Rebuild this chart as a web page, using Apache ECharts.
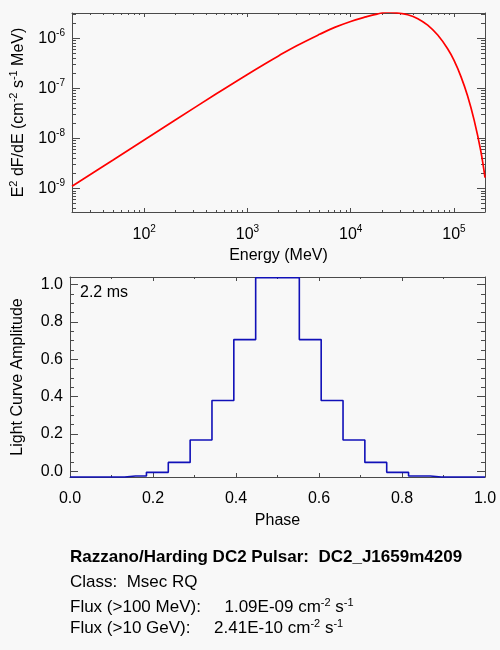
<!DOCTYPE html>
<html>
<head>
<meta charset="utf-8">
<script src="https://cdn.jsdelivr.net/npm/echarts@6/dist/echarts.min.js"></script>
<style>
html, body { margin: 0; padding: 0; background: #f8f8f8; }
#chart { width: 500px; height: 650px; }
</style>
</head>
<body>
<div id="chart"></div>
<script>
// ---- Spectrum (top panel) ----
const energy = [20, 50, 100, 200, 500, 1000, 1500, 2000, 3000, 5000, 7000, 10000, 14000, 18000, 23000, 28000,
                35700, 44700, 55700, 69700, 86900, 100000, 117000, 135500, 157000, 182000, 200000];
const flux = [1.11e-9, 3.72e-9, 9.3e-9, 2.33e-8, 7.8e-8, 1.9e-7, 3.15e-7, 4.45e-7, 7.1e-7, 1.2e-6, 1.65e-6, 2.17e-6,
              2.67e-6, 3.05e-6, 3.33e-6, 3.22e-6, 2.95e-6, 2.47e-6, 1.83e-6, 1.16e-6, 6.18e-7, 3.65e-7, 1.72e-7,
              7.11e-8, 2.32e-8, 5.64e-9, 1.65e-9];
const energyRange = [20, 200000];
const fluxRange = [3.4e-10, 3.2e-6];
const energyTicks = [100, 1000, 10000, 100000];
const energyMinorTicks = [20, 30, 40, 50, 60, 70, 80, 90, 200, 300, 400, 500, 600, 700, 800, 900,
                          2000, 3000, 4000, 5000, 6000, 7000, 8000, 9000, 20000, 30000, 40000, 50000,
                          60000, 70000, 80000, 90000];
const fluxTicks = [1e-9, 1e-8, 1e-7, 1e-6];
const fluxMinorTicks = [4e-10, 5e-10, 6e-10, 7e-10, 8e-10, 9e-10, 2e-9, 3e-9, 4e-9, 5e-9, 6e-9, 7e-9, 8e-9, 9e-9,
                        2e-8, 3e-8, 4e-8, 5e-8, 6e-8, 7e-8, 8e-8, 9e-8, 2e-7, 3e-7, 4e-7, 5e-7, 6e-7, 7e-7,
                        8e-7, 9e-7, 2e-6, 3e-6];

// ---- Light curve (bottom panel) ----
const phase = [0, 0.0526, 0.1053, 0.1579, 0.2105, 0.2632, 0.3158, 0.3684, 0.4211, 0.4737,
               0.5263, 0.5789, 0.6316, 0.6842, 0.7368, 0.7895, 0.8421, 0.8947, 0.9474, 1.0];
const amplitude = [-0.03, -0.03, -0.03, -0.025, -0.005, 0.048, 0.168, 0.379, 0.705, 1.036,
                   1.036, 0.705, 0.379, 0.168, 0.048, -0.005, -0.025, -0.03, -0.03, -0.03];
const phaseRange = [0, 1];
const ampRange = [-0.03, 1.04];
const phaseTicks = [0, 0.2, 0.4, 0.6, 0.8, 1.0];
const phaseMinorTicks = [0.1, 0.3, 0.5, 0.7, 0.9];
const ampTicks = [0, 0.2, 0.4, 0.6, 0.8, 1.0];
const ampMinorTicks = [0.05, 0.1, 0.15, 0.25, 0.3, 0.35, 0.45, 0.5, 0.55, 0.65, 0.7, 0.75, 0.85, 0.9, 0.95];

// ---- Text ----
const periodText = '2.2 ms';
const infoTitle = 'Razzano/Harding DC2 Pulsar:  DC2_J1659m4209';
const infoClass = 'Class:  Msec RQ';
const flux100 = '1.09E-09';
const flux10G = '2.41E-10';

const FONT = '"Liberation Sans", Arial, Helvetica, sans-serif';
const AXC = '#4a4a4a';
const L10 = Math.log10;

const supRich = {
  b: { fontSize: 16, lineHeight: 21, fontFamily: FONT, color: '#000' },
  s: { fontSize: 10, lineHeight: 10, verticalAlign: 'top', fontFamily: FONT, color: '#000' }
};

function frameAxis(gridIndex, position, range, ticks, len, showLine, label, name) {
  const ax = {
    type: 'value', gridIndex: gridIndex, position: position,
    min: range[0], max: range[1],
    axisLine: { show: showLine, onZero: false, lineStyle: { color: AXC, width: 1 } },
    axisTick: { show: true, inside: true, length: len, customValues: ticks, lineStyle: { color: AXC, width: 1 } },
    axisLabel: label ? Object.assign({ show: true, customValues: ticks, color: '#000', fontFamily: FONT, fontSize: 16 }, label) : { show: false },
    splitLine: { show: false },
    minorTick: { show: false },
    z: 1
  };
  if (name) Object.assign(ax, name);
  return ax;
}

const eLogRange = [L10(energyRange[0]), L10(energyRange[1])];
const fLogRange = [L10(fluxRange[0]), L10(fluxRange[1])];
const eT = energyTicks.map(L10), eMT = energyMinorTicks.map(L10);
const fT = fluxTicks.map(L10), fMT = fluxMinorTicks.map(L10);
const supFmt = v => '{b|10}{s|' + Math.round(v) + '}';

const xAxes = [
  // 0: data axis for spectrum
  { type: 'log', gridIndex: 0, min: energyRange[0], max: energyRange[1], show: false },
  // 1..4: spectrum frame
  frameAxis(0, 'bottom', eLogRange, eT, 4, true,
    { formatter: supFmt, rich: supRich, margin: 12 },
    { name: 'Energy (MeV)', nameLocation: 'middle', nameGap: 36,
      nameTextStyle: { fontSize: 16, lineHeight: 16, fontFamily: FONT, color: '#000' } }),
  frameAxis(0, 'bottom', eLogRange, eMT, 2, false, null),
  frameAxis(0, 'top', eLogRange, eT, 4, true, null),
  frameAxis(0, 'top', eLogRange, eMT, 2, false, null),
  // 5..8: light-curve frame (5 also carries the data)
  frameAxis(1, 'bottom', phaseRange, phaseTicks, 4, true,
    { formatter: v => v.toFixed(1), margin: 14, lineHeight: 16 },
    { name: 'Phase', nameLocation: 'middle', nameGap: 36,
      nameTextStyle: { fontSize: 16, lineHeight: 16, fontFamily: FONT, color: '#000' } }),
  frameAxis(1, 'bottom', phaseRange, phaseMinorTicks, 2, false, null),
  frameAxis(1, 'top', phaseRange, phaseTicks, 4, true, null),
  frameAxis(1, 'top', phaseRange, phaseMinorTicks, 2, false, null)
];

const yAxes = [
  { type: 'log', gridIndex: 0, min: fluxRange[0], max: fluxRange[1], show: false },
  frameAxis(0, 'left', fLogRange, fT, 8, true,
    { formatter: supFmt, rich: supRich, margin: 7 },
    { name: '{n|E}{s|2}{n| dF/dE (cm}{s|-2}{n| s}{s|-1}{n| MeV)}', nameLocation: 'middle', nameGap: 43,
      nameTextStyle: { fontFamily: FONT, color: '#000',
        rich: {
          n: { fontSize: 16, lineHeight: 21, fontFamily: FONT, color: '#000' },
          s: { fontSize: 11, lineHeight: 11, verticalAlign: 'top', fontFamily: FONT, color: '#000' }
        } } }),
  frameAxis(0, 'left', fLogRange, fMT, 4, false, null),
  frameAxis(0, 'right', fLogRange, fT, 8, true, null),
  frameAxis(0, 'right', fLogRange, fMT, 4, false, null),
  frameAxis(1, 'left', ampRange, ampTicks, 8, true,
    { formatter: v => v.toFixed(1), margin: 7 },
    { name: 'Light Curve Amplitude', nameLocation: 'middle', nameGap: 44,
      nameTextStyle: { fontSize: 16, lineHeight: 16, fontFamily: FONT, color: '#000' } }),
  frameAxis(1, 'left', ampRange, ampMinorTicks, 4, false, null),
  frameAxis(1, 'right', ampRange, ampTicks, 8, true, null),
  frameAxis(1, 'right', ampRange, ampMinorTicks, 4, false, null)
];

const txtRich = {
  t: { fontSize: 17, lineHeight: 20, fontFamily: FONT, color: '#000' },
  s: { fontSize: 11, lineHeight: 11, verticalAlign: 'top', fontFamily: FONT, color: '#000' }
};

const option = {
  backgroundColor: '#f8f8f8',
  animation: false,
  grid: [
    { left: 70, top: 13, width: 415, height: 199 },
    { left: 70, top: 277, width: 415, height: 200 }
  ],
  xAxis: xAxes,
  yAxis: yAxes,
  series: [
    {
      type: 'line', xAxisIndex: 0, yAxisIndex: 0,
      data: energy.map((e, i) => [e, flux[i]]),
      showSymbol: false, smooth: 0.4, clip: true,
      lineStyle: { color: '#ff0000', width: 1.7 }, z: 3
    },
    {
      type: 'line', xAxisIndex: 5, yAxisIndex: 5,
      data: phase.map((p, i) => [p, amplitude[i]]),
      showSymbol: false, step: 'middle', clip: false,
      lineStyle: { color: '#1010b8', width: 1.6 }, z: 3
    }
  ],
  graphic: [
    { type: 'text', x: 80, y: 293, style: { text: periodText, fontSize: 16, fontFamily: FONT, fill: '#000', verticalAlign: 'middle', align: 'left' } },
    { type: 'text', x: 70, y: 557, style: { text: infoTitle, fontSize: 17, fontWeight: 'bold', fontFamily: FONT, fill: '#000', verticalAlign: 'middle', align: 'left' } },
    { type: 'text', x: 70, y: 582, style: { text: infoClass, fontSize: 17, fontFamily: FONT, fill: '#000', verticalAlign: 'middle', align: 'left' } },
    { type: 'text', x: 70, y: 607, style: { text: '{t|Flux (>100 MeV):     ' + flux100 + ' cm}{s|-2}{t| s}{s|-1}', rich: txtRich, verticalAlign: 'middle', align: 'left' } },
    { type: 'text', x: 70, y: 628, style: { text: '{t|Flux (>10 GeV):     ' + flux10G + ' cm}{s|-2}{t| s}{s|-1}', rich: txtRich, verticalAlign: 'middle', align: 'left' } }
  ]
};

const chart = echarts.init(document.getElementById('chart'), null, { renderer: 'canvas' });
chart.setOption(option);
</script>
</body>
</html>
